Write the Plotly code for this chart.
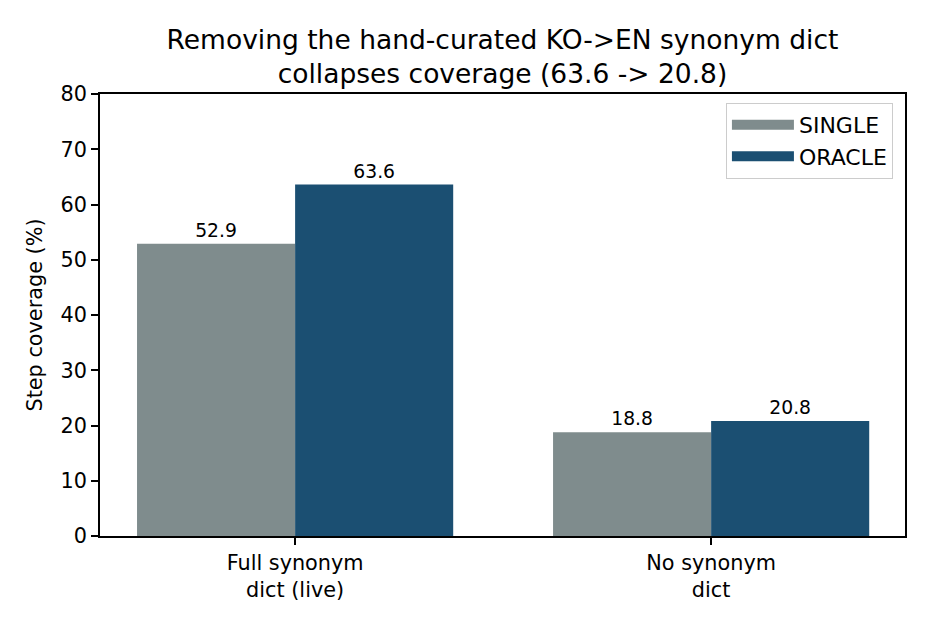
import plotly.graph_objs as go

# Data
categories = ["Full synonym<br>dict (live)", "No synonym<br>dict"]
single     = [52.9, 18.8]
oracle     = [63.6, 20.8]
y_ticks    = [0, 10, 20, 30, 40, 50, 60, 70, 80]

title_text = "Removing the hand-curated KO->EN synonym dict<br>collapses coverage (63.6 -> 20.8)"

font_family = "DejaVu Sans"
colors      = {"SINGLE": "#7f8c8d", "ORACLE": "#1b4f72"}

fig = go.Figure()
for name, vals in [("SINGLE", single), ("ORACLE", oracle)]:
    fig.add_trace(go.Bar(x = [0, 1], y = vals, name = name, marker_color = colors[name], marker_line_width = 0,
                         texttemplate = "%{y:.1f}", textposition = "outside", cliponaxis = False,
                         textfont = dict(size = 18.75, color = "black"), showlegend = False))
    # wide legend swatch like matplotlib's patch handles
    fig.add_trace(go.Scatter(x = [None], y = [None], mode = "lines", name = name,
                             line = dict(color = colors[name], width = 15)))

# page body has an 8px margin, so the margins are shifted to compensate
fig.update_layout(width = 930, height = 630, barmode = "group", bargap = 0.24, bargroupgap = 0,
                  plot_bgcolor = "white", paper_bgcolor = "white",
                  font = dict(family = font_family, size = 20.8, color = "black"),
                  title = dict(text = title_text, xref = "paper", x = 0.5, xanchor = "center",
                               y = 0.935, yanchor = "top", font = dict(size = 26.5)),
                  margin = dict(l = 92, r = 33, t = 86, b = 102),
                  legend = dict(x = 0.985, y = 0.98, xanchor = "right", yanchor = "top",
                                bordercolor = "#cccccc", borderwidth = 1, bgcolor = "white",
                                font = dict(size = 22), itemwidth = 62))

fig.update_xaxes(range = [-0.469, 1.466], tickvals = [0, 1], ticktext = categories,
                 showline = True, linecolor = "black", linewidth = 1.6, mirror = True,
                 ticks = "outside", ticklen = 7, tickwidth = 1.6, tickcolor = "black", showgrid = False,
                 tickfont = dict(size = 20.8))
fig.update_yaxes(range = [0, 80], tickvals = y_ticks,
                 title = dict(text = "Step coverage (%)", standoff = 12, font = dict(size = 20.8)),
                 showline = True, linecolor = "black", linewidth = 1.6, mirror = True,
                 ticks = "outside", ticklen = 7, tickwidth = 1.6, tickcolor = "black", showgrid = False,
                 zeroline = False, tickfont = dict(size = 20.8))

fig.write_html("out.html")
